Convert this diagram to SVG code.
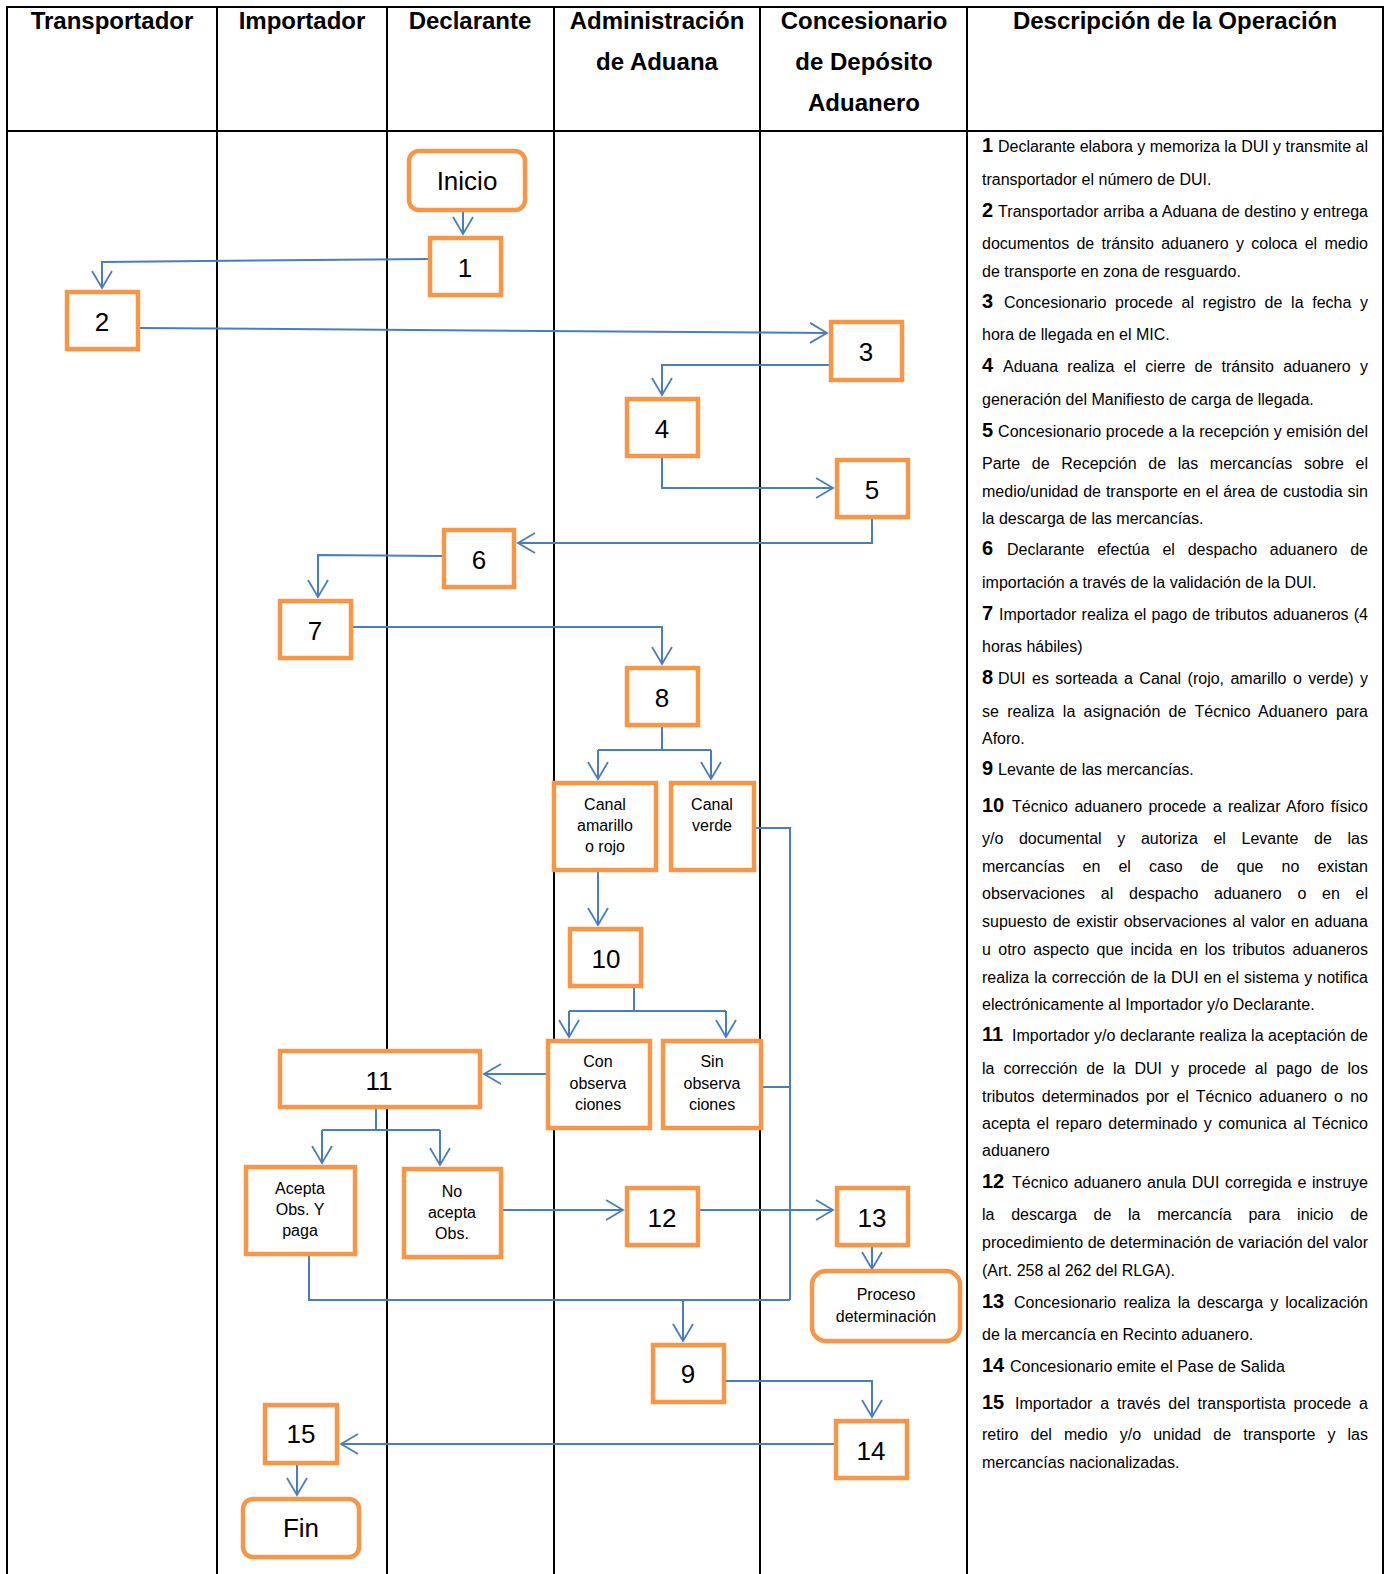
<svg xmlns="http://www.w3.org/2000/svg" width="1388" height="1574" viewBox="0 0 1388 1574">
<style>
text{font-family:"Liberation Sans",Arial,sans-serif;fill:#000}
.hdr{font-size:24px;font-weight:bold;text-anchor:middle}
.lane{stroke:#000;stroke-width:2;fill:none}
.box{fill:#fff;stroke:#F79646;stroke-width:4.5}
.num{font-size:26px;text-anchor:middle}
.lbl{font-size:16px;text-anchor:middle}
.con{fill:none;stroke:#4A7EBB;stroke-width:2}
.arr{marker-end:url(#ah)}
.dsc{font-size:16px}
.dn{font-size:20px;font-weight:bold}
</style>
<defs>
<marker id="ah" markerUnits="userSpaceOnUse" markerWidth="22" markerHeight="24" refX="18" refY="11" orient="auto">
<path d="M1,1 L18,11 L1,21" fill="none" stroke="#4A7EBB" stroke-width="1.8"/>
</marker>
</defs>
<rect width="1388" height="1574" fill="#fff"/>
<g id="table">
<path class="lane" d="M7,7 H1383 M7,131 H1383 M7,6 V1574 M217,6 V1574 M387,6 V1574 M554,6 V1574 M760,6 V1574 M967,6 V1574 M1383,6 V1574"/>
<text class="hdr" x="112" y="29">Transportador</text>
<text class="hdr" x="302" y="29">Importador</text>
<text class="hdr" x="470" y="29">Declarante</text>
<text class="hdr" x="657" y="29">Administración</text>
<text class="hdr" x="657" y="70">de Aduana</text>
<text class="hdr" x="864" y="29">Concesionario</text>
<text class="hdr" x="864" y="70">de Depósito</text>
<text class="hdr" x="864" y="111">Aduanero</text>
<text class="hdr" x="1175" y="29">Descripción de la Operación</text>
</g>
<g id="connectors">
<path class="con arr" d="M463,212 V234"/>
<path class="con arr" d="M428,259 L102,262 V288"/>
<path class="con arr" d="M140,328 L827,333"/>
<path class="con arr" d="M829,365 H662 V395"/>
<path class="con arr" d="M662,458 V488 H833"/>
<path class="con arr" d="M872,519 V543 H518"/>
<path class="con arr" d="M442,556 L318,555 V597"/>
<path class="con arr" d="M353,627 H662 V664"/>
<path class="con" d="M662,727 V750 M598,750 H711"/>
<path class="con arr" d="M598,750 V779"/>
<path class="con arr" d="M711,750 V779"/>
<path class="con arr" d="M598,872 V925"/>
<path class="con" d="M634,988 V1011 M569,1011 H726"/>
<path class="con arr" d="M569,1011 V1037"/>
<path class="con arr" d="M726,1011 V1037"/>
<path class="con arr" d="M546,1074 H484"/>
<path class="con" d="M376,1109 V1130 M322,1130 H440"/>
<path class="con arr" d="M322,1130 V1163"/>
<path class="con arr" d="M440,1130 V1165"/>
<path class="con arr" d="M503,1210 H623"/>
<path class="con arr" d="M700,1210 H833"/>
<path class="con arr" d="M872,1247 V1269"/>
<path class="con" d="M756,828 H790 V1300 M763,1087 H790"/>
<path class="con" d="M309,1256 V1300 H790"/>
<path class="con arr" d="M683,1300 V1341"/>
<path class="con arr" d="M726,1381 H872 V1417"/>
<path class="con arr" d="M834,1444 H341"/>
<path class="con arr" d="M297,1465 V1495"/>
</g>
<g id="n-inicio"><rect class="box" x="409" y="151" width="116" height="59" rx="10"/><text class="num" x="467" y="190">Inicio</text></g>
<g id="n1"><rect class="box" x="430" y="238" width="71" height="57"/><text class="num" x="465" y="277">1</text></g>
<g id="n2"><rect class="box" x="67" y="292" width="71" height="57"/><text class="num" x="102" y="331">2</text></g>
<g id="n3"><rect class="box" x="831" y="322" width="71" height="58"/><text class="num" x="866" y="361">3</text></g>
<g id="n4"><rect class="box" x="627" y="399" width="71" height="57"/><text class="num" x="662" y="438">4</text></g>
<g id="n5"><rect class="box" x="837" y="460" width="71" height="57"/><text class="num" x="872" y="499">5</text></g>
<g id="n6"><rect class="box" x="444" y="530" width="70" height="57"/><text class="num" x="479" y="569">6</text></g>
<g id="n7"><rect class="box" x="280" y="601" width="71" height="57"/><text class="num" x="315" y="640">7</text></g>
<g id="n8"><rect class="box" x="627" y="668" width="71" height="57"/><text class="num" x="662" y="707">8</text></g>
<g id="n-canal-ar"><rect class="box" x="554" y="783" width="102" height="87"/><text class="lbl" x="605" y="810">Canal</text><text class="lbl" x="605" y="831">amarillo</text><text class="lbl" x="605" y="852">o rojo</text></g>
<g id="n-canal-v"><rect class="box" x="671" y="783" width="83" height="87"/><text class="lbl" x="712" y="810">Canal</text><text class="lbl" x="712" y="831">verde</text></g>
<g id="n10"><rect class="box" x="570" y="929" width="71" height="57"/><text class="num" x="606" y="968">10</text></g>
<g id="n-con"><rect class="box" x="548" y="1041" width="102" height="87"/><text class="lbl" x="598" y="1067">Con</text><text class="lbl" x="598" y="1089">observa</text><text class="lbl" x="598" y="1110">ciones</text></g>
<g id="n-sin"><rect class="box" x="663" y="1041" width="98" height="87"/><text class="lbl" x="712" y="1067">Sin</text><text class="lbl" x="712" y="1089">observa</text><text class="lbl" x="712" y="1110">ciones</text></g>
<g id="n11"><rect class="box" x="280" y="1051" width="200" height="56"/><text class="num" x="379" y="1090">11</text></g>
<g id="n-acepta"><rect class="box" x="246" y="1167" width="109" height="87"/><text class="lbl" x="300" y="1194">Acepta</text><text class="lbl" x="300" y="1215">Obs. Y</text><text class="lbl" x="300" y="1236">paga</text></g>
<g id="n-noacepta"><rect class="box" x="404" y="1169" width="97" height="88"/><text class="lbl" x="452" y="1197">No</text><text class="lbl" x="452" y="1218">acepta</text><text class="lbl" x="452" y="1239">Obs.</text></g>
<g id="n12"><rect class="box" x="627" y="1188" width="71" height="57"/><text class="num" x="662" y="1227">12</text></g>
<g id="n13"><rect class="box" x="837" y="1188" width="71" height="57"/><text class="num" x="872" y="1227">13</text></g>
<g id="n-proceso"><rect class="box" x="812" y="1271" width="148" height="70" rx="14"/><text class="lbl" x="886" y="1300">Proceso</text><text class="lbl" x="886" y="1322">determinación</text></g>
<g id="n9"><rect class="box" x="653" y="1345" width="71" height="57"/><text class="num" x="688" y="1383">9</text></g>
<g id="n14"><rect class="box" x="836" y="1421" width="71" height="57"/><text class="num" x="871" y="1460">14</text></g>
<g id="n15"><rect class="box" x="265" y="1405" width="72" height="58"/><text class="num" x="301" y="1443">15</text></g>
<g id="n-fin"><rect class="box" x="243" y="1499" width="116" height="58" rx="10"/><text class="num" x="301" y="1537">Fin</text></g>
<g id="description">
<text class="dn" x="982" y="152">1</text>
<text class="dsc" x="998" y="152" textLength="370" lengthAdjust="spacing">Declarante elabora y memoriza la DUI y transmite al</text>
<text class="dsc" x="982" y="185">transportador el número de DUI.</text>
<text class="dn" x="982" y="217">2</text>
<text class="dsc" x="998" y="217" textLength="370" lengthAdjust="spacing">Transportador arriba a Aduana de destino y entrega</text>
<text class="dsc" x="982" y="249" textLength="386" lengthAdjust="spacing" word-spacing="2.8">documentos de tránsito aduanero y coloca el medio</text>
<text class="dsc" x="982" y="277">de transporte en zona de resguardo.</text>
<text class="dn" x="982" y="308">3</text>
<text class="dsc" x="1004" y="308" textLength="364" lengthAdjust="spacing" word-spacing="4.2">Concesionario procede al registro de la fecha y</text>
<text class="dsc" x="982" y="340">hora de llegada en el MIC.</text>
<text class="dn" x="982" y="372">4</text>
<text class="dsc" x="1003" y="372" textLength="365" lengthAdjust="spacing" word-spacing="4.8">Aduana realiza el cierre de tránsito aduanero y</text>
<text class="dsc" x="982" y="405">generación del Manifiesto de carga de llegada.</text>
<text class="dn" x="982" y="437">5</text>
<text class="dsc" x="998" y="437" textLength="370" lengthAdjust="spacing">Concesionario procede a la recepción y emisión del</text>
<text class="dsc" x="982" y="469" textLength="386" lengthAdjust="spacing" word-spacing="7.3">Parte de Recepción de las mercancías sobre el</text>
<text class="dsc" x="982" y="497" textLength="386" lengthAdjust="spacing" word-spacing="0.5">medio/unidad de transporte en el área de custodia sin</text>
<text class="dsc" x="982" y="524">la descarga de las mercancías.</text>
<text class="dn" x="982" y="555">6</text>
<text class="dsc" x="1007" y="555" textLength="361" lengthAdjust="spacing" word-spacing="8.3">Declarante efectúa el despacho aduanero de</text>
<text class="dsc" x="982" y="588">importación a través de la validación de la DUI.</text>
<text class="dn" x="982" y="620">7</text>
<text class="dsc" x="999" y="620" textLength="369" lengthAdjust="spacing" word-spacing="0.7">Importador realiza el pago de tributos aduaneros (4</text>
<text class="dsc" x="982" y="652">horas hábiles)</text>
<text class="dn" x="982" y="684">8</text>
<text class="dsc" x="998" y="684" textLength="370" lengthAdjust="spacing" word-spacing="2">DUI es sorteada a Canal (rojo, amarillo o verde) y</text>
<text class="dsc" x="982" y="717" textLength="386" lengthAdjust="spacing" word-spacing="3.8">se realiza la asignación de Técnico Aduanero para</text>
<text class="dsc" x="982" y="744">Aforo.</text>
<text class="dn" x="982" y="775">9</text>
<text class="dsc" x="998" y="775">Levante de las mercancías.</text>
<text class="dn" x="982" y="812">10</text>
<text class="dsc" x="1012" y="812" textLength="356" lengthAdjust="spacing" word-spacing="2">Técnico aduanero procede a realizar Aforo físico</text>
<text class="dsc" x="982" y="844" textLength="386" lengthAdjust="spacing" word-spacing="11.2">y/o documental y autoriza el Levante de las</text>
<text class="dsc" x="982" y="872" textLength="386" lengthAdjust="spacing" word-spacing="13.7">mercancías en el caso de que no existan</text>
<text class="dsc" x="982" y="899" textLength="386" lengthAdjust="spacing" word-spacing="11.3">observaciones al despacho aduanero o en el</text>
<text class="dsc" x="982" y="927" textLength="386" lengthAdjust="spacing" word-spacing="1.3">supuesto de existir observaciones al valor en aduana</text>
<text class="dsc" x="982" y="955" textLength="386" lengthAdjust="spacing" word-spacing="2.9">u otro aspecto que incida en los tributos aduaneros</text>
<text class="dsc" x="982" y="983" textLength="386" lengthAdjust="spacing" word-spacing="0.6">realiza la corrección de la DUI en el sistema y notifica</text>
<text class="dsc" x="982" y="1010">electrónicamente al Importador y/o Declarante.</text>
<text class="dn" x="982" y="1041">11</text>
<text class="dsc" x="1012" y="1041" textLength="356" lengthAdjust="spacing">Importador y/o declarante realiza la aceptación de</text>
<text class="dsc" x="982" y="1074" textLength="386" lengthAdjust="spacing" word-spacing="4.5">la corrección de la DUI y procede al pago de los</text>
<text class="dsc" x="982" y="1102" textLength="386" lengthAdjust="spacing" word-spacing="2.8">tributos determinados por el Técnico aduanero o no</text>
<text class="dsc" x="982" y="1129" textLength="386" lengthAdjust="spacing" word-spacing="2">acepta el reparo determinado y comunica al Técnico</text>
<text class="dsc" x="982" y="1156">aduanero</text>
<text class="dn" x="982" y="1188">12</text>
<text class="dsc" x="1012" y="1188" textLength="356" lengthAdjust="spacing" word-spacing="1.2">Técnico aduanero anula DUI corregida e instruye</text>
<text class="dsc" x="982" y="1220" textLength="386" lengthAdjust="spacing" word-spacing="12.3">la descarga de la mercancía para inicio de</text>
<text class="dsc" x="982" y="1248" textLength="386" lengthAdjust="spacing">procedimiento de determinación de variación del valor</text>
<text class="dsc" x="982" y="1276">(Art. 258 al 262 del RLGA).</text>
<text class="dn" x="982" y="1308">13</text>
<text class="dsc" x="1014" y="1308" textLength="354" lengthAdjust="spacing" word-spacing="2.7">Concesionario realiza la descarga y localización</text>
<text class="dsc" x="982" y="1340">de la mercancía en Recinto aduanero.</text>
<text class="dn" x="982" y="1372">14</text>
<text class="dsc" x="1010" y="1372">Concesionario emite el Pase de Salida</text>
<text class="dn" x="982" y="1409">15</text>
<text class="dsc" x="1015" y="1409" textLength="353" lengthAdjust="spacing" word-spacing="3.4">Importador a través del transportista procede a</text>
<text class="dsc" x="982" y="1440" textLength="386" lengthAdjust="spacing" word-spacing="7.7">retiro del medio y/o unidad de transporte y las</text>
<text class="dsc" x="982" y="1468">mercancías nacionalizadas.</text>
</g>
</svg>
